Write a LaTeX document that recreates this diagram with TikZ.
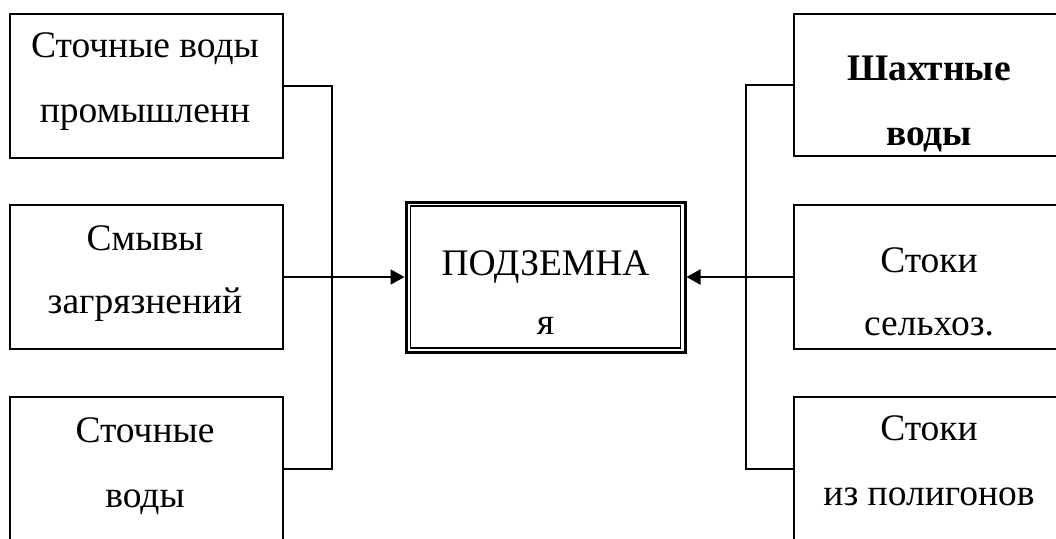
\documentclass[tikz,border=0pt]{standalone}
\usepackage{fontspec}
\setmainfont{Liberation Serif}
\usetikzlibrary{arrows.meta}
\begin{document}
\begin{tikzpicture}[x=1pt,y=-1pt,
  box/.style={draw, line width=2pt, inner sep=0pt, anchor=north west,
    minimum width=273pt, minimum height=144pt},
  lbl/.style={anchor=base, inner sep=0pt, font=\fontsize{37.5}{44}\selectfont},
  conn/.style={line width=2pt},
  arr/.style={line width=2pt, -{Triangle[length=14pt,width=15pt]}}]
\useasboundingbox (0,0) rectangle (1056,538);
\clip (0,0) rectangle (1056,538);
% left boxes
\node[box] (lt) at (9,13) {};
\node[box] (lm) at (9,204) {};
\node[box] (lb) at (9,396) {};
% right boxes
\node[box, minimum height=142pt] (rt) at (793,13) {};
\node[box] (rm) at (793,204) {};
\node[box] (rb) at (793,396) {};
% centre box
\node[draw, line width=3pt, inner sep=0pt, minimum width=279pt, minimum height=150pt] (c) at (545.5,277) {};
\draw[line width=1.8pt] ([shift={(6pt,-5.5pt)}]c.north west) rectangle ([shift={(-6pt,5.5pt)}]c.south east);
% texts
\node[lbl] (t1a) at (145,57) {Сточные воды};
\node[lbl] (t1b) at (145,122) {промышленн};
\node[lbl] (t2a) at (145,250) {Смывы};
\node[lbl] (t2b) at (145,313) {загрязнений};
\node[lbl] (t3a) at (145,442) {Сточные};
\node[lbl] (t3b) at (145,507) {воды};
\node[lbl, font=\fontsize{37.5}{44}\selectfont\bfseries] (t4a) at (929,80) {Шахтные};
\node[lbl, font=\fontsize{37.5}{44}\selectfont\bfseries] (t4b) at (929,145) {воды};
\node[lbl] (t5a) at (929,272) {Стоки};
\node[lbl] (t5b) at (929,335) {сельхоз.};
\node[lbl] (t6a) at (929,440) {Стоки};
\node[lbl] (t6b) at (929,505) {из полигонов};
\node[lbl] (tca) at (545.5,275) {ПОДЗЕМНА};
\node[lbl] (tcb) at (545.5,334) {я};
% connectors
\draw[conn] (lt.east) -- ++(48,0) |- (lb.east);
\draw[arr] (lm.east) -- (c.west);
\draw[conn] (rt.west) -- ++(-47,0) |- (rb.west);
\draw[arr] (rm.west) -- (c.east);
\end{tikzpicture}
\end{document}
